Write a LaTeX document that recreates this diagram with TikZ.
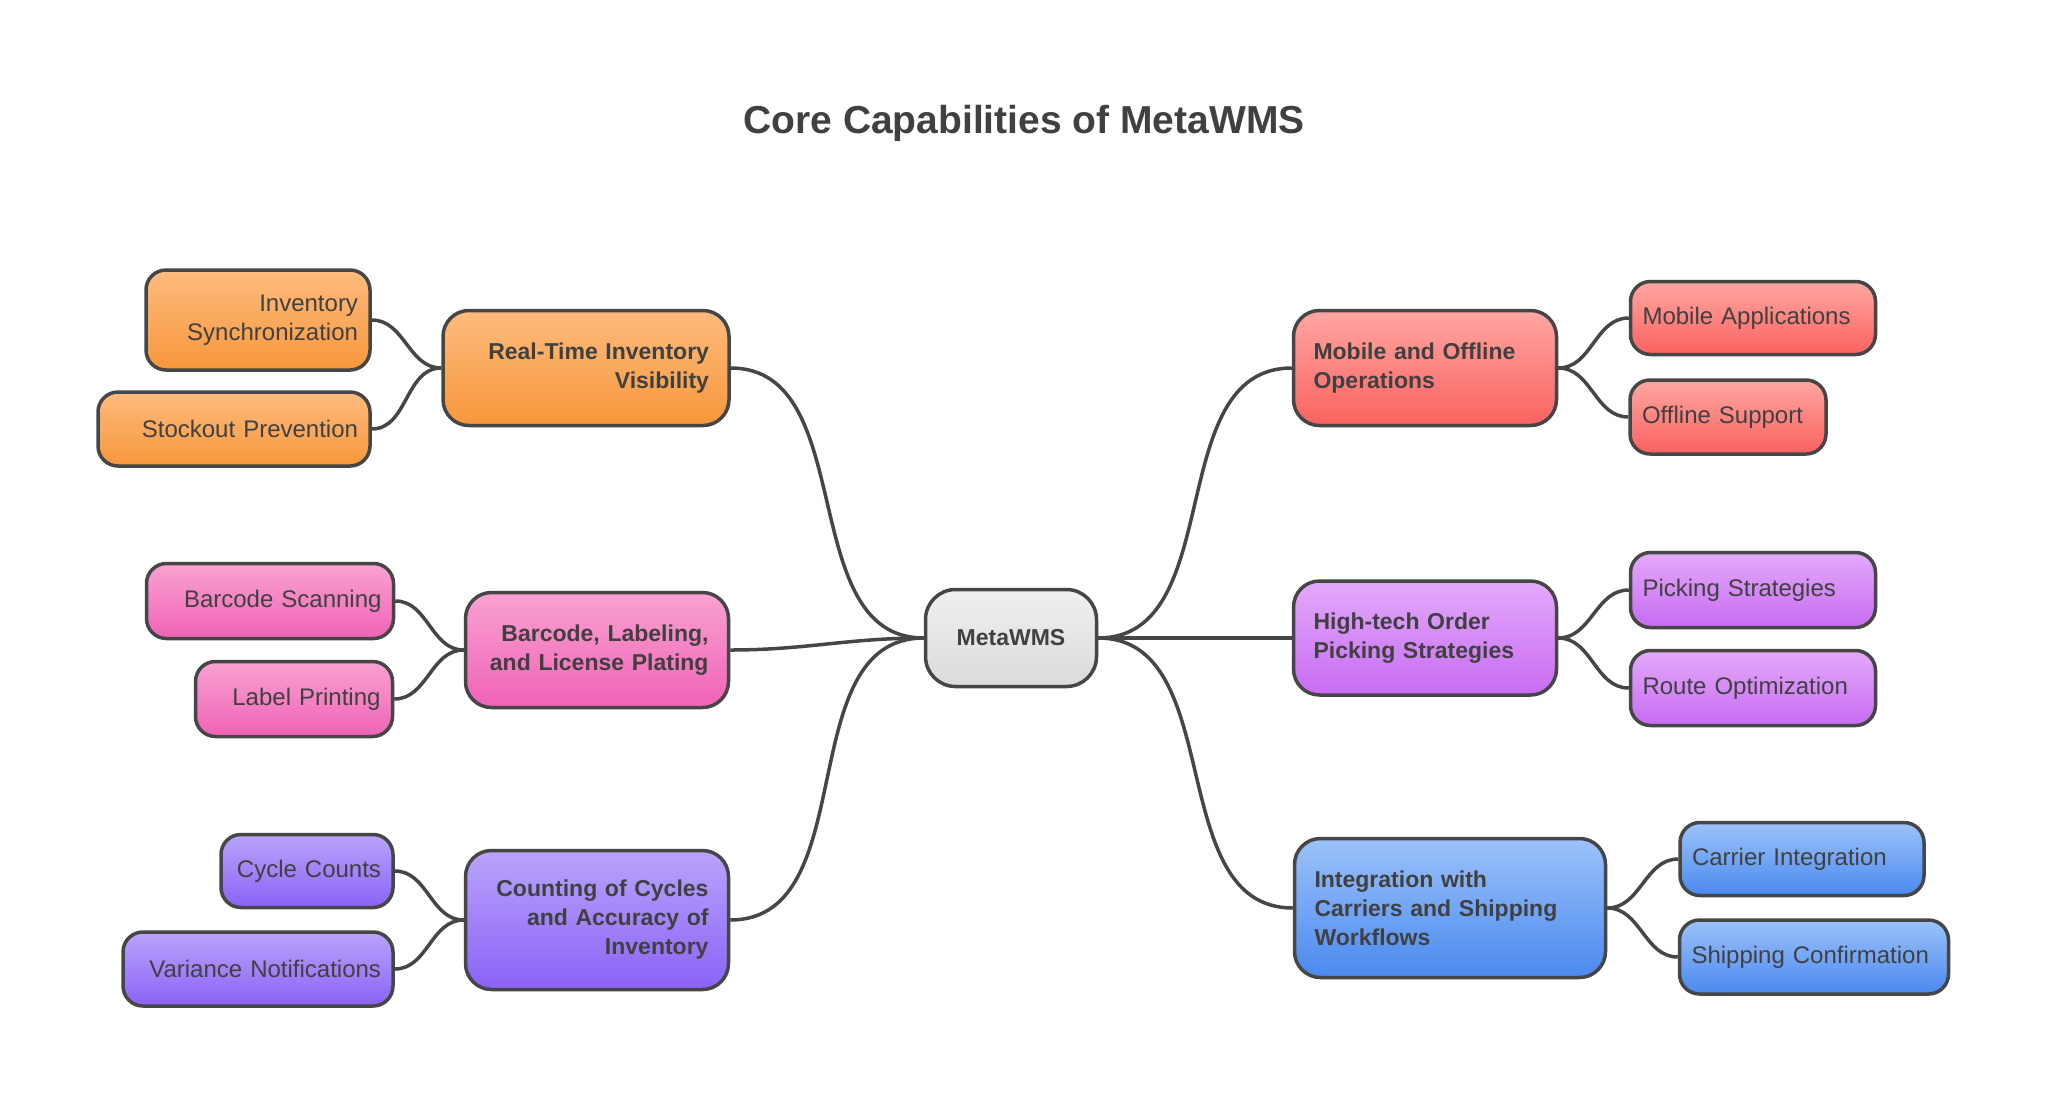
\documentclass[tikz,border=0pt]{standalone}
\usepackage{fontspec}
\setmainfont{Liberation Sans}
\usepackage{tikz}
\usetikzlibrary{arrows.meta}
\definecolor{inkgray}{HTML}{404040}
\definecolor{linegray}{HTML}{464646}
\definecolor{orT}{HTML}{FDBB7E}\definecolor{orB}{HTML}{F7973B}
\definecolor{pkT}{HTML}{F9A2D2}\definecolor{pkB}{HTML}{F062B6}
\definecolor{puT}{HTML}{B9A4FB}\definecolor{puB}{HTML}{8A62F6}
\definecolor{rdT}{HTML}{FFA6A2}\definecolor{rdB}{HTML}{FA625F}
\definecolor{viT}{HTML}{E3A9FA}\definecolor{viB}{HTML}{C86CF2}
\definecolor{blT}{HTML}{9CC2F9}\definecolor{blB}{HTML}{4A89EF}
\definecolor{gyT}{HTML}{F0F0F0}\definecolor{gyB}{HTML}{DADADA}
\newcommand{\leaffont}{\fontsize{24}{29}\selectfont}
\newcommand{\topicfont}{\fontsize{23}{29}\selectfont\bfseries}

\begin{document}
\begin{tikzpicture}[x=1pt,y=-1pt,>=Latex,
  box/.style={draw=linegray,line width=3.5pt,text=inkgray,inner ysep=0pt},
  leaf/.style={box,font=\leaffont,inner xsep=12pt,rounded corners=20pt},
  topic/.style={box,font=\topicfont,inner xsep=20pt,rounded corners=26pt},
  orangebox/.style={top color=orT,bottom color=orB},
  pinkbox/.style={top color=pkT,bottom color=pkB},
  purplebox/.style={top color=puT,bottom color=puB},
  redbox/.style={top color=rdT,bottom color=rdB},
  violetbox/.style={top color=viT,bottom color=viB},
  bluebox/.style={top color=blT,bottom color=blB},
  link/.style={draw=linegray,line width=3.5pt}]
 \useasboundingbox[fill=white] (0,0) rectangle (2048,1112);
 \node[font=\fontsize{39}{46}\selectfont\bfseries,text=inkgray] (title) at (1024,123) {Core Capabilities of MetaWMS};
 \node[box,font=\topicfont,top color=gyT,bottom color=gyB,rounded corners=30pt,minimum width=171pt,minimum height=97pt] (wms) at (1011,638) {MetaWMS};
 % left branches
 \node[topic,orangebox,align=right,text width=246pt,minimum height=115pt] (rti) at (586,368) {Real-Time Inventory\\Visibility};
 \node[topic,pinkbox,align=right,text width=223pt,minimum height=115pt] (blp) at (597,650) {Barcode, Labeling,\\and License Plating};
 \node[topic,purplebox,align=right,text width=223pt,minimum height=139pt] (cca) at (597,920) {Counting of Cycles\\and Accuracy of\\Inventory};
 \node[leaf,orangebox,align=right,text width=200pt,minimum height=100pt] (isync) at (258,320) {Inventory\\Synchronization};
 \node[leaf,orangebox,align=right,text width=248pt,minimum height=74pt] (stock) at (234,429) {Stockout Prevention};
 \node[leaf,pinkbox,align=right,text width=223pt,minimum height=75pt] (bscan) at (270,601) {Barcode Scanning};
 \node[leaf,pinkbox,align=right,text width=173pt,minimum height=75pt] (lprint) at (294,699) {Label Printing};
 \node[leaf,purplebox,align=right,text width=148pt,minimum height=73pt] (cyc) at (307,871) {Cycle Counts};
 \node[leaf,purplebox,align=right,text width=246pt,minimum height=74pt] (var) at (258,969) {Variance Notifications};
 % right branches
 \node[topic,redbox,align=left,text width=223pt,minimum height=115pt] (mob) at (1425,368) {Mobile and Offline\\Operations};
 \node[topic,violetbox,align=left,text width=223pt,minimum height=114pt] (htp) at (1425,638) {High-tech Order\\Picking Strategies};
 \node[topic,bluebox,align=left,text width=271pt,minimum height=139pt] (icw) at (1450,908) {Integration with\\Carriers and Shipping\\Workflows};
 \node[leaf,redbox,align=left,text width=221pt,minimum height=73pt] (mapp) at (1753,318) {Mobile Applications};
 \node[leaf,redbox,align=left,text width=172pt,minimum height=74pt] (osup) at (1728,417) {Offline Support};
 \node[leaf,violetbox,align=left,text width=221pt,minimum height=75pt] (pick) at (1753,590) {Picking Strategies};
 \node[leaf,violetbox,align=left,text width=221pt,minimum height=75pt] (route) at (1753,688) {Route Optimization};
 \node[leaf,bluebox,align=left,text width=220pt,minimum height=73pt] (carr) at (1802,859) {Carrier Integration};
 \node[leaf,bluebox,align=left,text width=245pt,minimum height=74pt] (ship) at (1814,957) {Shipping Confirmation};
 % connectors
 \foreach \t in {rti,blp,cca} { \draw[link] (wms.west) to[out=180,in=0] (\t.east); }
 \foreach \t in {mob,htp,icw} { \draw[link] (wms.east) to[out=0,in=180] (\t.west); }
 \foreach \t/\l in {rti/isync,rti/stock,blp/bscan,blp/lprint,cca/cyc,cca/var} { \draw[link] (\t.west) to[out=180,in=0] (\l.east); }
 \foreach \t/\l in {mob/mapp,mob/osup,htp/pick,htp/route,icw/carr,icw/ship} { \draw[link] (\t.east) to[out=0,in=180] (\l.west); }
\end{tikzpicture}
\end{document}
